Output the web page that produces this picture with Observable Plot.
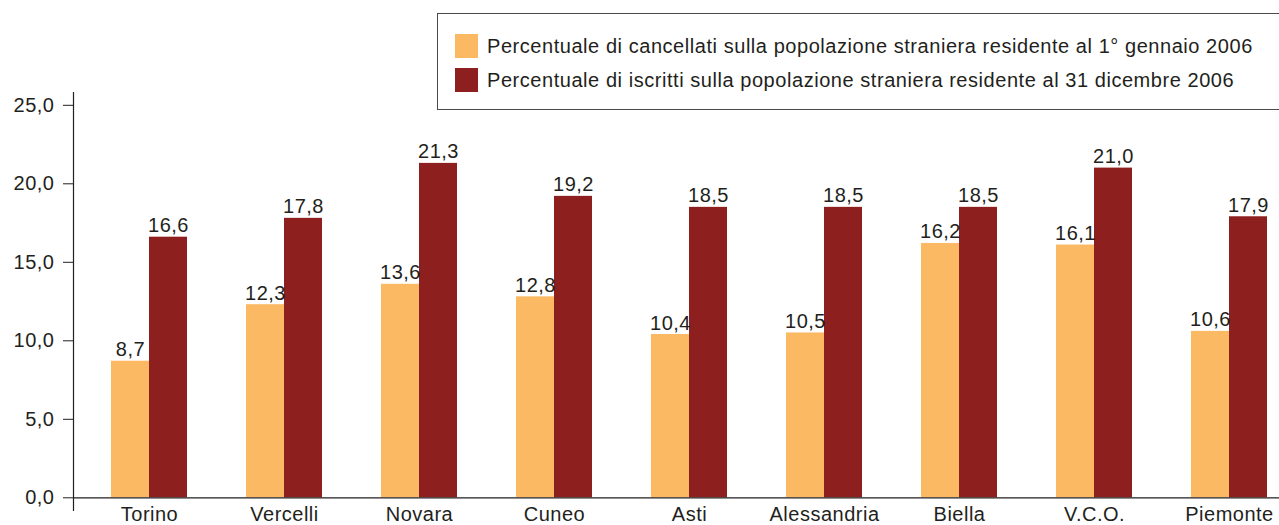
<!DOCTYPE html>
<html>
<head>
<meta charset="utf-8">
<script src="https://cdn.jsdelivr.net/npm/d3@7"></script>
<script src="https://cdn.jsdelivr.net/npm/@observablehq/plot@0.6"></script>
<style>
  html, body { margin: 0; padding: 0; background: #fff; }
  #wrap { position: relative; width: 1279px; height: 525px; overflow: hidden; font-family: "Liberation Sans", Arial, sans-serif; }
  #legend { position: absolute; left: 437px; top: 13px; width: 842px; height: 97px; box-sizing: border-box;
            border: 1px solid #4a4a4a; border-right: none; background: #fff; color: #231f20; font-size: 20px; letter-spacing: 0.55px; }
  .row { position: absolute; left: 17px; display: flex; align-items: center; }
  .sw { width: 23px; height: 24px; margin-right: 9px; }
</style>
</head>
<body>
<div id="wrap"></div>
<script>
const categories = ["Torino", "Vercelli", "Novara", "Cuneo", "Asti", "Alessandria", "Biella", "V.C.O.", "Piemonte"];
const cancellati = [8.7, 12.3, 13.6, 12.8, 10.4, 10.5, 16.2, 16.1, 10.6];
const iscritti = [16.6, 17.8, 21.3, 19.2, 18.5, 18.5, 18.5, 21.0, 17.9];
const seriesNames = [
  "Percentuale di cancellati sulla popolazione straniera residente al 1° gennaio 2006",
  "Percentuale di iscritti sulla popolazione straniera residente al 31 dicembre 2006"
];
const seriesColors = ["#fbb963", "#8e1f1f"];
const yTicks = [0, 5, 10, 15, 20, 25];

const fmt = v => d3.format(".1f")(v).replace(".", ",");
const dataA = categories.map((c, i) => ({cat: c, v: cancellati[i]}));
const dataB = categories.map((c, i) => ({cat: c, v: iscritti[i]}));

const textColor = "#231f20";
const half = 38;

const chart = Plot.plot({
  width: 1279,
  height: 525,
  marginLeft: 73,
  marginRight: 0,
  marginTop: 92,
  marginBottom: 15,
  style: {fontFamily: "'Liberation Sans', Arial, sans-serif", fontSize: "20px", letterSpacing: "0.5px", color: textColor, background: "#fff"},
  x: {domain: categories, range: [81.5, 1296.5], paddingInner: 0.437, paddingOuter: 0.2185, align: 0.5},
  y: {domain: [0, 25], range: [497.3, 104.8]},
  marks: [
    Plot.barY(dataA, {x: "cat", y: "v", fill: seriesColors[0], insetRight: half}),
    Plot.barY(dataB, {x: "cat", y: "v", fill: seriesColors[1], insetLeft: half}),
    Plot.text(dataA, {x: "cat", y: "v", text: d => fmt(d.v), dx: -19, dy: -5, lineAnchor: "bottom", fill: textColor, fontSize: 20}),
    Plot.text(dataB, {x: "cat", y: "v", text: d => fmt(d.v), dx: 19, dy: -5, lineAnchor: "bottom", fill: textColor, fontSize: 20}),
    Plot.frame({anchor: "left", stroke: "#231f20", strokeWidth: 1.2}),
    Plot.ruleY([0], {stroke: "#231f20", strokeWidth: 1.2}),
    Plot.axisY({ticks: yTicks, tickFormat: fmt, tickSize: 10, tickPadding: 9, label: null, stroke: "#231f20", fill: textColor, fontSize: 20}),
    Plot.axisX({tickSize: 0, tickPadding: -4, label: null, fill: textColor, fontSize: 20})
  ]
});

const wrap = document.getElementById("wrap");
wrap.appendChild(chart);

const legend = document.createElement("div");
legend.id = "legend";
seriesNames.forEach((name, i) => {
  const row = document.createElement("div");
  row.className = "row";
  row.style.top = (20 + i * 34) + "px";
  const sw = document.createElement("div");
  sw.className = "sw";
  sw.style.background = seriesColors[i];
  const t = document.createElement("span");
  t.textContent = name;
  row.appendChild(sw);
  row.appendChild(t);
  legend.appendChild(row);
});
wrap.appendChild(legend);
</script>
</body>
</html>
